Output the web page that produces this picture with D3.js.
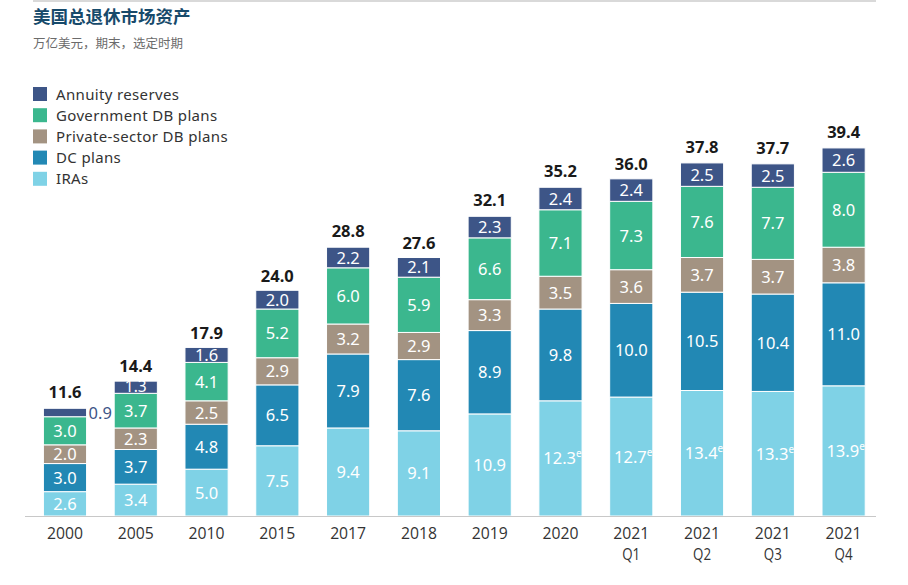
<!DOCTYPE html>
<html><head><meta charset="utf-8">
<script src="https://cdn.jsdelivr.net/npm/d3@7"></script>
<style>body{margin:0;background:#fff;}svg{display:block;font-family:"Noto Sans",sans-serif;}</style>
</head><body><svg id="c" width="908" height="585"></svg>
<script>
const categories = ["2000","2005","2010","2015","2017","2018","2019","2020","2021 Q1","2021 Q2","2021 Q3","2021 Q4"];
const iras = [2.6,3.4,5.0,7.5,9.4,9.1,10.9,12.3,12.7,13.4,13.3,13.9];
const dcPlans = [3.0,3.7,4.8,6.5,7.9,7.6,8.9,9.8,10.0,10.5,10.4,11.0];
const privateDB = [2.0,2.3,2.5,2.9,3.2,2.9,3.3,3.5,3.6,3.7,3.7,3.8];
const govDB = [3.0,3.7,4.1,5.2,6.0,5.9,6.6,7.1,7.3,7.6,7.7,8.0];
const annuity = [0.9,1.3,1.6,2.0,2.2,2.1,2.3,2.4,2.4,2.5,2.5,2.6];
const totals = [11.6,14.4,17.9,24.0,28.8,27.6,32.1,35.2,36.0,37.8,37.7,39.4];
const estimated = [false,false,false,false,false,false,false,true,true,true,true,true];
const seriesNames = ["IRAs","DC plans","Private-sector DB plans","Government DB plans","Annuity reserves"];
const seriesColors = ["#7fd2e6","#2288b4","#a39382","#3bb78e","#3d5587"];
const seriesData = [iras,dcPlans,privateDB,govDB,annuity];

const svg = d3.select("#c");
svg.append("line").attr("x1",33).attr("x2",876).attr("y1",1).attr("y2",1).attr("stroke","#d9d9d9").attr("stroke-width",2);
svg.append("text").attr("x",33).attr("y",23).attr("font-size",17.5).attr("font-weight",700).attr("fill","#174a6b")
  .attr("font-family","'Noto Sans CJK SC',sans-serif").text("美国总退休市场资产");
svg.append("text").attr("x",33).attr("y",48).attr("font-size",12.5).attr("fill","#6b6b6b")
  .attr("font-family","'Noto Sans CJK SC',sans-serif").text("万亿美元，期末，选定时期");

const x = d3.scaleBand().domain(categories).range([29.6,879]).paddingInner(0.39).paddingOuter(0.195);
const y = d3.scaleLinear().domain([0,39.4]).range([516,147]);

const table = categories.map((c,i)=>{const o={cat:c}; seriesNames.forEach((s,j)=>o[s]=seriesData[j][i]); return o;});
const stack = d3.stack().keys(seriesNames)(table);

const g = svg.append("g");
stack.forEach((layer,j)=>{
  g.selectAll(null).data(layer).join("rect")
   .attr("x",d=>x(d.data.cat)).attr("width",x.bandwidth())
   .attr("y",d=>y(d[1])).attr("height",d=>y(d[0])-y(d[1]))
   .attr("fill",seriesColors[j]).attr("stroke","#fff").attr("stroke-width",1);
  layer.forEach((d,i)=>{
    const v = seriesData[j][i];
    const cx = x(d.data.cat)+x.bandwidth()/2;
    const cy = (y(d[0])+y(d[1]))/2;
    if(j===4 && i===0){
      svg.append("text").attr("x",x(d.data.cat)+x.bandwidth()+2).attr("y",cy+6)
        .attr("font-size",16.5).attr("fill","#3d5587").text(v.toFixed(1));
      return;
    }
    const fs = (j===4 && i===1) ? 15.5 : 16.5;
    const t = svg.append("text").attr("x",cx).attr("y",cy+(j===4&&i===1?5:6)).attr("text-anchor","middle")
      .attr("font-size",fs).attr("fill","#fff").text(v.toFixed(1));
    if(j===0 && estimated[i]){
      t.append("tspan").attr("font-size",10).attr("dy",-7).text("e");
      t.attr("x",cx+2);
    }
  });
});
// totals
svg.selectAll(null).data(categories).join("text")
  .attr("x",c=>x(c)+x.bandwidth()/2).attr("y",(c,i)=>y(totals[i])-9)
  .attr("text-anchor","middle").attr("font-size",16.5).attr("font-weight",700).attr("fill","#1a1a1a")
  .text((c,i)=>totals[i].toFixed(1));

// x axis
svg.append("line").attr("x1",25).attr("x2",876).attr("y1",516.5).attr("y2",516.5).attr("stroke","#c8c8c8").attr("stroke-width",1);
const xt = svg.append("g");
categories.forEach(c=>{
  const parts=c.split(" ");
  const cx = x(c)+x.bandwidth()/2;
  parts.forEach((p,k)=>{
    xt.append("text").attr("x",cx).attr("y",539+k*21).attr("text-anchor","middle")
      .attr("font-size",16.5).attr("fill","#333").attr("font-family","'Open Sans',sans-serif")
      .attr("textLength",p.length*9).attr("lengthAdjust","spacingAndGlyphs").text(p);
  });
});

// legend
const legendOrder = [4,3,2,1,0];
legendOrder.forEach((j,k)=>{
  const ly = 87 + k*21.2;
  svg.append("rect").attr("x",33).attr("y",ly).attr("width",14).attr("height",14).attr("fill",seriesColors[j]);
  svg.append("text").attr("x",56).attr("y",ly+12.5).attr("font-size",15).attr("fill","#333").attr("letter-spacing",0.35).text(seriesNames[j]);
});
</script></body></html>
